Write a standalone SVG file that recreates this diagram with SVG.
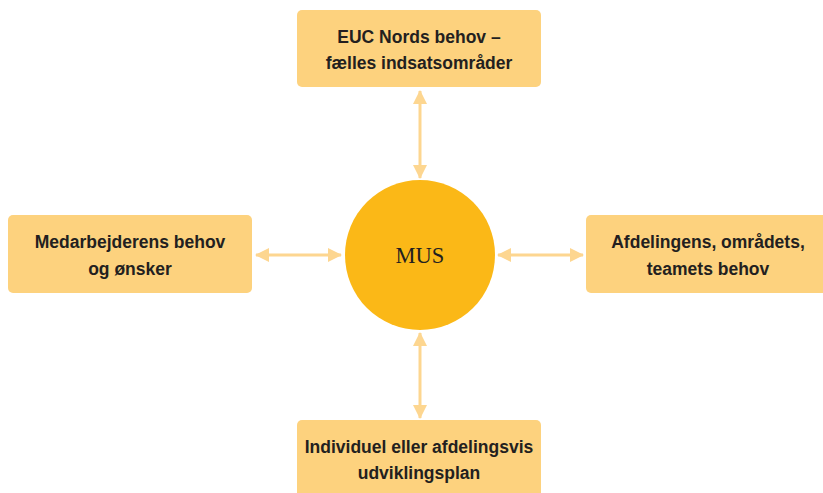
<svg xmlns="http://www.w3.org/2000/svg" width="823" height="493" viewBox="0 0 823 493">
<defs>
<style>
.box{fill:#fdd27e;}
.lbl{font-family:"Liberation Sans","Noto Sans",Arial,sans-serif;font-weight:bold;font-size:17.5px;fill:#231f20;text-anchor:middle;}
.conn{stroke:#fdd690;stroke-width:3;fill:none;marker-start:url(#ah);marker-end:url(#ah);}
</style>
<marker id="ah" viewBox="0 0 14 14" refX="13" refY="7" markerWidth="14" markerHeight="14" markerUnits="userSpaceOnUse" orient="auto-start-reverse">
<path d="M0,0 L14,7 L0,14 Z" fill="#fdd690"/>
</marker>
</defs>
<rect width="823" height="493" fill="#ffffff"/>
<g id="connectors">
<line class="conn" x1="420" y1="91" x2="420" y2="178"/>
<line class="conn" x1="256" y1="255" x2="341" y2="255"/>
<line class="conn" x1="498" y1="255" x2="583" y2="255"/>
<line class="conn" x1="420" y1="333" x2="420" y2="418"/>
</g>
<g id="mus">
<circle cx="420" cy="255" r="75" fill="#fbb817"/>
<text x="420" y="263" font-family="'Liberation Serif','Times New Roman',serif" font-size="22.5" fill="#231f20" text-anchor="middle">MUS</text>
</g>
<g id="top">
<rect class="box" x="297" y="10" width="244" height="77" rx="5"/>
<text class="lbl" x="419" y="43">EUC Nords behov –</text>
<text class="lbl" x="419" y="69">fælles indsatsområder</text>
</g>
<g id="left">
<rect class="box" x="8" y="215" width="244" height="78" rx="5"/>
<text class="lbl" x="130" y="248">Medarbejderens behov</text>
<text class="lbl" x="130" y="275">og ønsker</text>
</g>
<g id="right">
<rect class="box" x="586" y="215" width="244" height="78" rx="5"/>
<text class="lbl" x="708" y="248">Afdelingens, områdets,</text>
<text class="lbl" x="708" y="275">teamets behov</text>
</g>
<g id="bottom">
<rect class="box" x="297" y="420" width="244" height="80" rx="5"/>
<text class="lbl" x="419" y="453">Individuel eller afdelingsvis</text>
<text class="lbl" x="419" y="479">udviklingsplan</text>
</g>
</svg>
